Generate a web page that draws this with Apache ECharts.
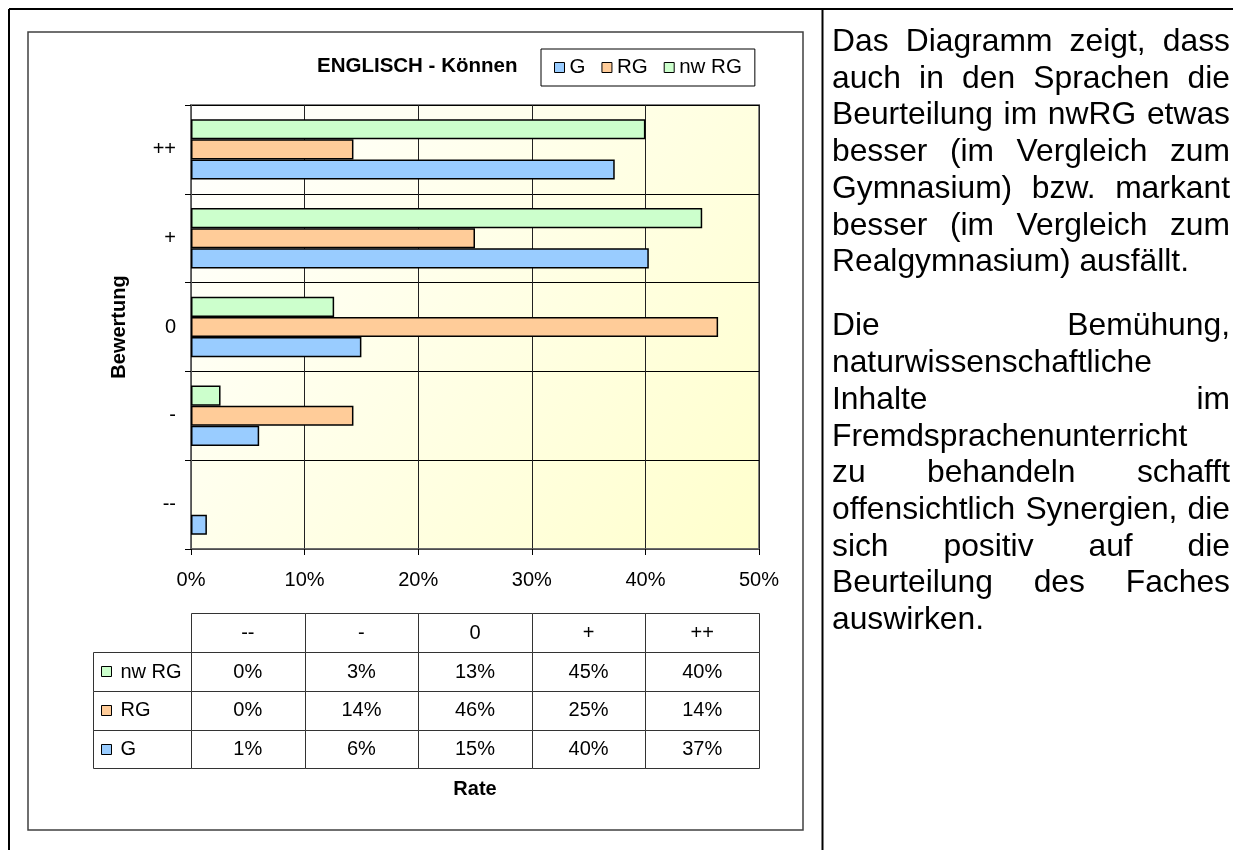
<!DOCTYPE html>
<html>
<head>
<meta charset="utf-8">
<script src="https://cdn.jsdelivr.net/npm/echarts@6/dist/echarts.min.js"></script>
<style>
html,body{margin:0;padding:0;background:#fff;}
#chart{position:absolute;left:0;top:0;width:1233px;height:850px;}
#text{position:absolute;left:832px;top:22px;width:398px;font-family:"Liberation Sans",Arial,sans-serif;font-size:31.8px;line-height:36.7px;color:#000;}
#text .p{margin:0 0 27.5px 0;}
#text .ln{text-align:justify;text-align-last:justify;}
#text .last{text-align:left;text-align-last:left;}
</style>
</head>
<body>
<div id="chart"></div>
<div id="text"></div>
<script>
// ---- data ----
const categories = ['--', '-', '0', '+', '++'];
const seriesNames = ['G', 'RG', 'nw RG'];
const valuesG = [1.4, 6.0, 15.0, 40.3, 37.3];
const valuesRG = [0, 14.3, 46.4, 25.0, 14.3];
const valuesNwRG = [0, 2.6, 12.6, 45.0, 40.0];
const xMin = 0, xMax = 50, xStep = 10;
const chartTitle = 'ENGLISCH - Können';
const yTitle = 'Bewertung';
const xTitle = 'Rate';
const paragraph1 = ['Das Diagramm zeigt, dass', 'auch in den Sprachen die', 'Beurteilung im nwRG etwas', 'besser (im Vergleich zum', 'Gymnasium) bzw. markant', 'besser (im Vergleich zum', 'Realgymnasium) ausfällt.'];
const paragraph2 = ['Die Bemühung,', 'naturwissenschaftliche', 'Inhalte im', 'Fremdsprachenunterricht', 'zu behandeln schafft', 'offensichtlich Synergien, die', 'sich positiv auf die', 'Beurteilung des Faches', 'auswirken.'];

// ---- styles ----
const FONT = '"Liberation Sans", Arial, sans-serif';
const colors = {'G': '#99CCFF', 'RG': '#FFCC99', 'nw RG': '#CCFFCC'};
const valuesByName = {'G': valuesG, 'RG': valuesRG, 'nw RG': valuesNwRG};

// right-hand text
const textBox = document.getElementById('text');
[paragraph1, paragraph2].forEach(function (para) {
  const p = document.createElement('div');
  p.className = 'p';
  para.forEach(function (line, i) {
    const d = document.createElement('div');
    d.className = 'ln' + (i === para.length - 1 ? ' last' : '');
    d.textContent = line;
    p.appendChild(d);
  });
  textBox.appendChild(p);
});

// table cells (rows: G bottom, RG, nw RG, header on top)
const tableRowNames = ['G', 'RG', 'nw RG'];
const tableCells = [];
tableRowNames.forEach(function (name, r) {
  valuesByName[name].forEach(function (v, c) {
    tableCells.push({c: c, r: r, text: Math.round(v) + '%', label: c === 0 ? name : null});
  });
});
categories.forEach(function (cat, c) {
  tableCells.push({c: c, r: 3, text: cat, label: null});
});

const chart = echarts.init(document.getElementById('chart'), null, {renderer: 'canvas'});

const barOrder = ['nw RG', 'RG', 'G'];
const barSeries = barOrder.map(function (name) {
  return {
    name: name,
    type: 'bar',
    xAxisIndex: 0,
    yAxisIndex: 0,
    data: valuesByName[name].map(function (v) {
      return v === 0 ? {value: v, itemStyle: {borderWidth: 0}} : v;
    }),
    barGap: '0%',
    barCategoryGap: '32%',
    itemStyle: {color: colors[name], borderColor: '#000', borderWidth: 1.5},
    emphasis: {disabled: true},
    z: 3
  };
});

const option = {
  animation: false,
  textStyle: {fontFamily: FONT, color: '#000'},
  title: {
    text: chartTitle,
    left: 317, top: 56, padding: 0,
    textStyle: {fontSize: 20.5, fontWeight: 'bold', fontFamily: FONT, color: '#000'}
  },
  legend: {
    data: seriesNames,
    left: 541, top: 49,
    icon: 'rect', itemWidth: 10, itemHeight: 10, itemGap: 16,
    padding: [8, 13],
    borderColor: '#000', borderWidth: 1,
    textStyle: {fontSize: 20.5, fontFamily: FONT, color: '#000'},
    itemStyle: {borderColor: '#000', borderWidth: 1}
  },
  graphic: [
    {type: 'line', shape: {x1: 9, y1: 9, x2: 1233, y2: 9}, style: {stroke: '#000', lineWidth: 2}, silent: true},
    {type: 'line', shape: {x1: 9, y1: 9, x2: 9, y2: 850}, style: {stroke: '#000', lineWidth: 2}, silent: true},
    {type: 'line', shape: {x1: 822.5, y1: 9, x2: 822.5, y2: 850}, style: {stroke: '#000', lineWidth: 2}, silent: true},
    {type: 'rect', shape: {x: 28, y: 32, width: 775, height: 798}, style: {fill: 'none', stroke: '#404040', lineWidth: 1.5}, silent: true, z: -1}
  ],
  grid: [
    {
      left: 191, top: 105, width: 568, height: 444,
      show: true, borderColor: '#808080', borderWidth: 2,
      backgroundColor: new echarts.graphic.LinearGradient(0, 0, 1, 1, [
        {offset: 0, color: '#ffffff'}, {offset: 1, color: '#ffffcc'}
      ])
    },
    {left: 191, top: 613, width: 568, height: 155}
  ],
  xAxis: [
    {
      type: 'value', gridIndex: 0, min: xMin, max: xMax, interval: xStep,
      axisLabel: {formatter: '{value}%', fontSize: 20, margin: 21, color: '#000', fontFamily: FONT},
      axisTick: {show: true, length: 6, lineStyle: {color: '#000'}},
      axisLine: {show: true, lineStyle: {color: '#666', width: 1.5}},
      splitLine: {show: true, lineStyle: {color: '#222', width: 1}}
    },
    {
      type: 'category', gridIndex: 1, data: categories,
      axisLine: {show: false}, axisTick: {show: false}, axisLabel: {show: false}, splitLine: {show: false},
      name: xTitle, nameLocation: 'middle', nameGap: 11,
      nameTextStyle: {fontSize: 20, fontWeight: 'bold', fontFamily: FONT, color: '#000'}
    }
  ],
  yAxis: [
    {
      type: 'category', gridIndex: 0, data: categories,
      axisLabel: {fontSize: 20, margin: 15, color: '#000', fontFamily: FONT},
      axisTick: {show: true, length: 6, lineStyle: {color: '#000'}},
      axisLine: {show: true, lineStyle: {color: '#666', width: 1.5}},
      splitLine: {show: true, lineStyle: {color: '#000', width: 1}},
      name: yTitle, nameLocation: 'middle', nameGap: 62, nameRotate: 90,
      nameTextStyle: {fontSize: 20, fontWeight: 'bold', fontFamily: FONT, color: '#000'}
    },
    {
      type: 'category', gridIndex: 1, data: tableRowNames.concat(['']),
      show: false
    }
  ],
  series: barSeries.concat([{
    type: 'custom',
    xAxisIndex: 1,
    yAxisIndex: 1,
    silent: true,
    clip: false,
    data: tableCells.map(function (d) { return [d.c, d.r]; }),
    renderItem: function (params, api) {
      const cell = tableCells[params.dataIndex];
      const p = api.coord([api.value(0), api.value(1)]);
      const s = api.size([1, 1]);
      const x0 = Math.round(p[0] - s[0] / 2) + 0.5;
      const y0 = Math.round(p[1] - s[1] / 2) + 0.5;
      const w = Math.round(s[0]), h = Math.round(s[1]);
      const children = [
        {type: 'rect', shape: {x: x0, y: y0, width: w, height: h}, style: {fill: '#fff', stroke: '#333', lineWidth: 1}},
        {type: 'text', style: {x: p[0], y: p[1] + 1, text: cell.text, align: 'center', verticalAlign: 'middle', fontSize: 20, fontFamily: FONT, fill: '#000'}}
      ];
      if (cell.label) {
        const lw = 98;
        children.push({type: 'rect', shape: {x: x0 - lw, y: y0, width: lw, height: h}, style: {fill: '#fff', stroke: '#333', lineWidth: 1}});
        children.push({type: 'rect', shape: {x: x0 - lw + 8, y: Math.round(p[1]) - 4.5, width: 10, height: 10}, style: {fill: colors[cell.label], stroke: '#000', lineWidth: 1}});
        children.push({type: 'text', style: {x: x0 - lw + 27, y: p[1] + 1, text: cell.label, align: 'left', verticalAlign: 'middle', fontSize: 20, fontFamily: FONT, fill: '#000'}});
      }
      return {type: 'group', children: children};
    }
  }])
};

chart.setOption(option);
</script>
</body>
</html>
